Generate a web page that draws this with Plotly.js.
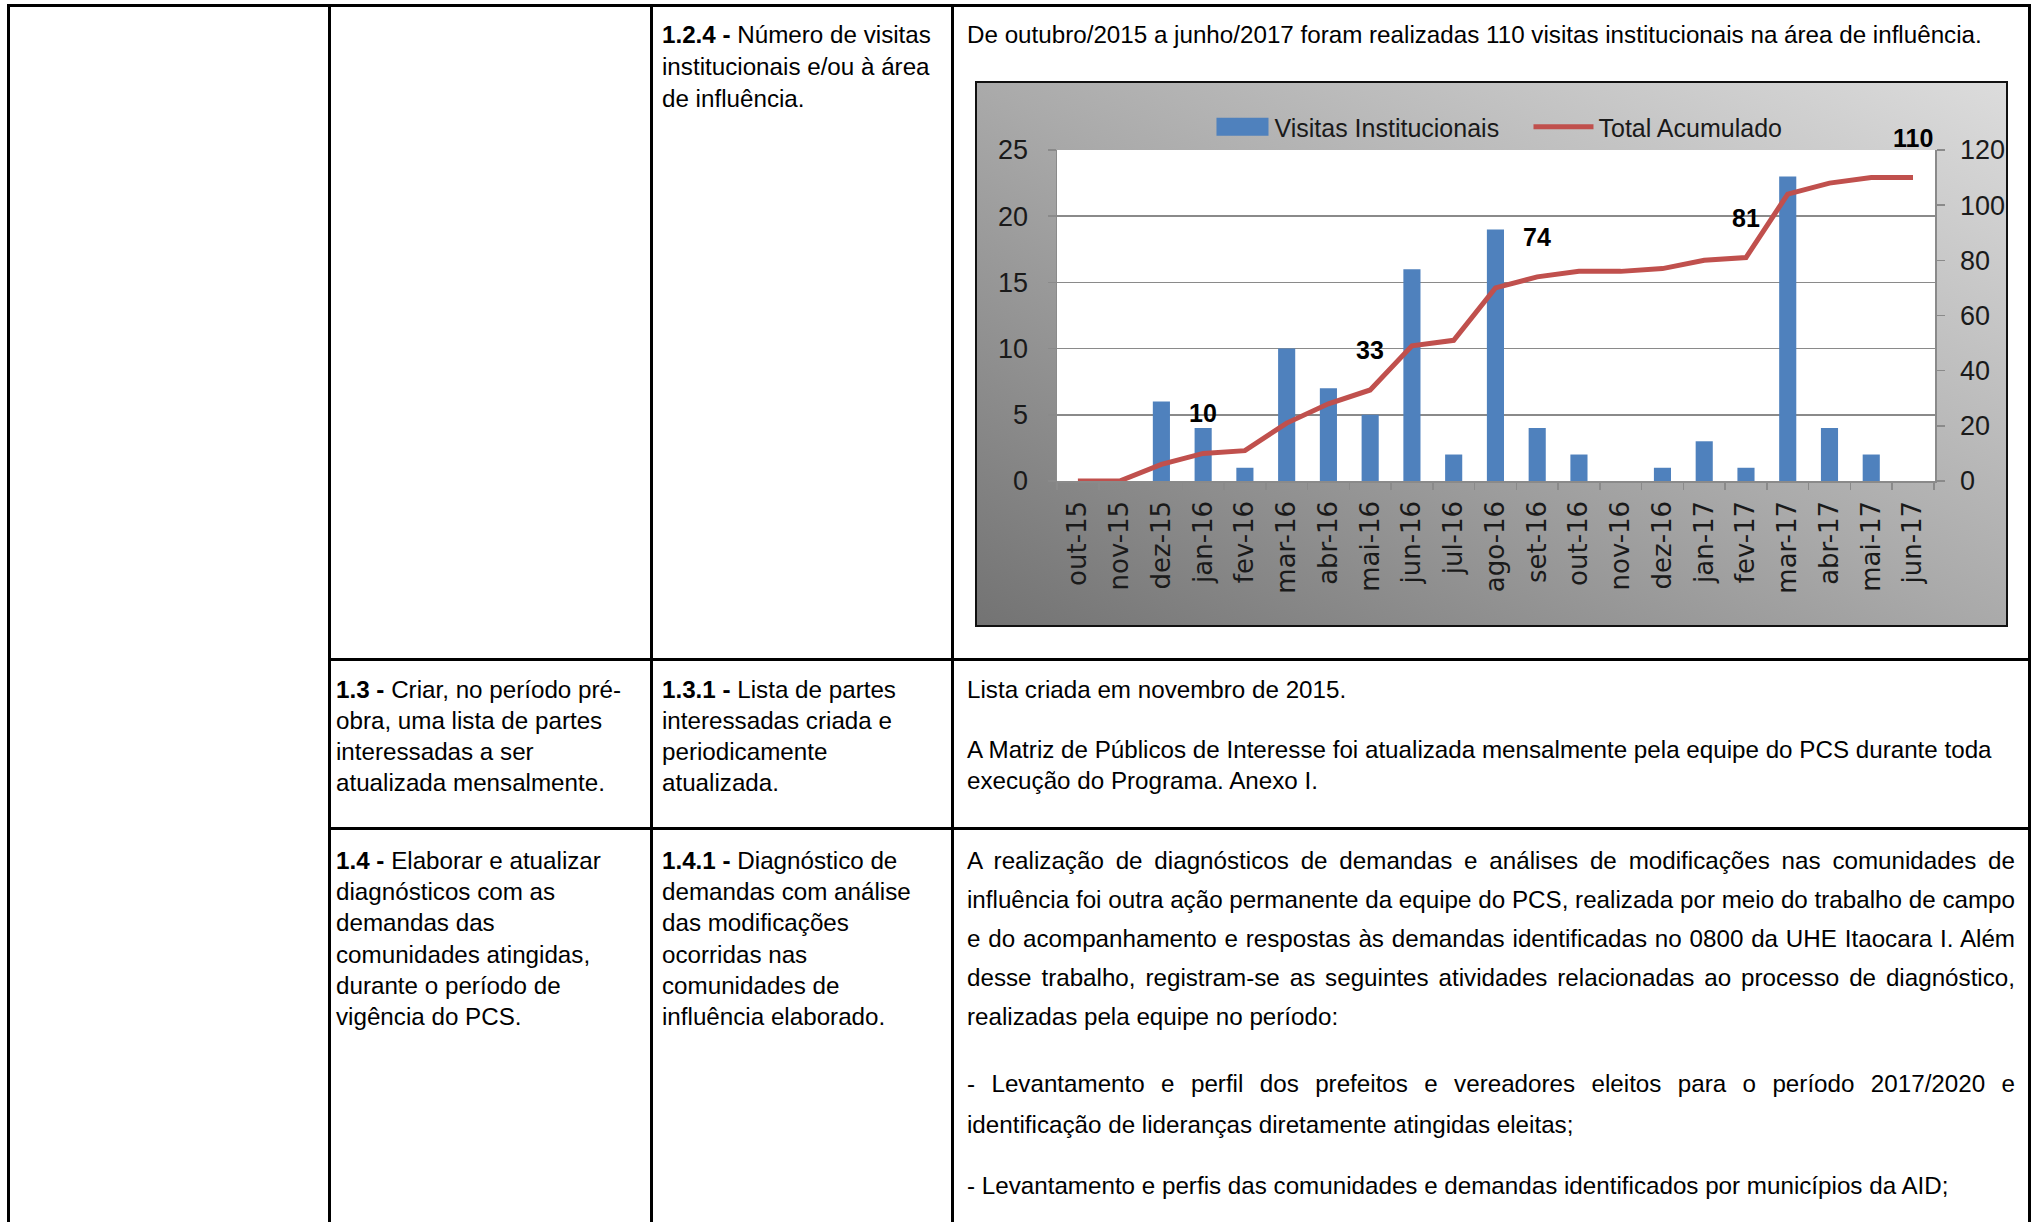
<!DOCTYPE html>
<html><head><meta charset="utf-8">
<script src="https://cdn.plot.ly/plotly-3.0.1.min.js"></script>
<style>
html,body{margin:0;padding:0;background:#fff;}
body{width:2034px;height:1222px;position:relative;overflow:hidden;font-family:"Liberation Sans",Arial,sans-serif;color:#000;}
.hl{position:absolute;background:#000;height:3px;}
.vl{position:absolute;background:#000;width:3px;}
.t{position:absolute;white-space:nowrap;font-size:24.2px;line-height:30px;height:30px;}
.c1{left:336px;}
.c2{left:662px;}
.c3{left:967px;}
.j{width:1048px;text-align:justify;text-align-last:justify;}
#frame{position:absolute;left:975px;top:81px;width:1033px;height:546px;box-sizing:border-box;border:2px solid #111;
  background:linear-gradient(to bottom left,#dcdcdc 0%,#aaaaaa 50%,#737373 100%);}
#chart{position:absolute;left:-2px;top:-2px;width:1033px;height:546px;}
</style></head>
<body>
<!-- table rules -->
<div class="hl" style="left:7px;top:4px;width:2024px;"></div>
<div class="vl" style="left:7px;top:4px;height:1218px;"></div>
<div class="vl" style="left:328px;top:4px;height:1218px;"></div>
<div class="vl" style="left:650px;top:4px;height:1218px;"></div>
<div class="vl" style="left:951px;top:4px;height:1218px;"></div>
<div class="vl" style="left:2028px;top:4px;height:1218px;"></div>
<div class="hl" style="left:328px;top:658px;width:1703px;"></div>
<div class="hl" style="left:328px;top:827px;width:1703px;"></div>

<!-- row 1 -->
<div class="t c2" style="top:20px;"><b>1.2.4 -</b> Número de visitas</div>
<div class="t c2" style="top:52px;">institucionais e/ou à área</div>
<div class="t c2" style="top:84px;">de influência.</div>
<div class="t c3" style="top:20px;">De outubro/2015 a junho/2017 foram realizadas 110 visitas institucionais na área de influência.</div>

<!-- row 2 -->
<div class="t c1" style="top:675px;"><b>1.3 -</b> Criar, no período pré-</div>
<div class="t c1" style="top:706px;">obra, uma lista de partes</div>
<div class="t c1" style="top:737px;">interessadas a ser</div>
<div class="t c1" style="top:768px;">atualizada mensalmente.</div>
<div class="t c2" style="top:675px;"><b>1.3.1 -</b> Lista de partes</div>
<div class="t c2" style="top:706px;">interessadas criada e</div>
<div class="t c2" style="top:737px;">periodicamente</div>
<div class="t c2" style="top:768px;">atualizada.</div>
<div class="t c3" style="top:675px;">Lista criada em novembro de 2015.</div>
<div class="t c3" style="top:735px;">A Matriz de Públicos de Interesse foi atualizada mensalmente pela equipe do PCS durante toda</div>
<div class="t c3" style="top:766px;">execução do Programa. Anexo I.</div>

<!-- row 3 -->
<div class="t c1" style="top:846px;"><b>1.4 -</b> Elaborar e atualizar</div>
<div class="t c1" style="top:877px;">diagnósticos com as</div>
<div class="t c1" style="top:908px;">demandas das</div>
<div class="t c1" style="top:940px;">comunidades atingidas,</div>
<div class="t c1" style="top:971px;">durante o período de</div>
<div class="t c1" style="top:1002px;">vigência do PCS.</div>
<div class="t c2" style="top:846px;"><b>1.4.1 -</b> Diagnóstico de</div>
<div class="t c2" style="top:877px;">demandas com análise</div>
<div class="t c2" style="top:908px;">das modificações</div>
<div class="t c2" style="top:940px;">ocorridas nas</div>
<div class="t c2" style="top:971px;">comunidades de</div>
<div class="t c2" style="top:1002px;">influência elaborado.</div>
<div class="t c3 j" style="top:846px;">A realização de diagnósticos de demandas e análises de modificações nas comunidades de</div>
<div class="t c3 j" style="top:885px;">influência foi outra ação permanente da equipe do PCS, realizada por meio do trabalho de campo</div>
<div class="t c3 j" style="top:924px;">e do acompanhamento e respostas às demandas identificadas no 0800 da UHE Itaocara I. Além</div>
<div class="t c3 j" style="top:963px;">desse trabalho, registram-se as seguintes atividades relacionadas ao processo de diagnóstico,</div>
<div class="t c3" style="top:1002px;">realizadas pela equipe no período:</div>
<div class="t c3 j" style="top:1069px;">- Levantamento e perfil dos prefeitos e vereadores eleitos para o período 2017/2020 e</div>
<div class="t c3" style="top:1110px;">identificação de lideranças diretamente atingidas eleitas;</div>
<div class="t c3" style="top:1171px;">- Levantamento e perfis das comunidades e demandas identificados por municípios da AID;</div>

<div id="frame"><div id="chart"></div></div>

<script>
const months = ['out-15','nov-15','dez-15','jan-16','fev-16','mar-16','abr-16','mai-16','jun-16','jul-16','ago-16','set-16','out-16','nov-16','dez-16','jan-17','fev-17','mar-17','abr-17','mai-17','jun-17'];
const visitas = [0,0,6,4,1,10,7,5,16,2,19,4,2,0,1,3,1,23,4,2,0];
const acumulado = [0,0,6,10,11,21,28,33,49,51,70,74,76,76,77,80,81,104,108,110,110];
const labeledMonths = ['jan-16','mai-16','set-16','fev-17','jun-17'];
const leftTicks = [0,5,10,15,20,25];
const rightTicks = [0,20,40,60,80,100,120];
const seriesNames = ['Visitas Institucionais','Total Acumulado'];

const numFont = '"Liberation Sans",Arial,sans-serif';
const axisGray = '#8a8a8a';

const traces = [
  {type:'bar', x:months, y:visitas, name:seriesNames[0], yaxis:'y',
   marker:{color:'#4f81bd'}, hoverinfo:'skip'},
  {type:'scatter', mode:'lines', x:months, y:acumulado, name:seriesNames[1], yaxis:'y2',
   line:{color:'#c0504d', width:5}, hoverinfo:'skip'}
];

const annotations = labeledMonths.map(m => {
  const v = acumulado[months.indexOf(m)];
  return {x:m, y:v, xref:'x', yref:'y2', text:'<b>'+v+'</b>', showarrow:false, yshift:40,
          font:{family:numFont, size:25, color:'#000'}};
});

const layout = {
  width:1033, height:546,
  margin:{l:82, r:73, t:69, b:146},
  paper_bgcolor:'rgba(0,0,0,0)', plot_bgcolor:'#ffffff',
  bargap:0.59,
  showlegend:true,
  legend:{orientation:'h', x:0.537, xanchor:'center', y:1.0, yanchor:'bottom',
          font:{family:numFont, size:25, color:'#1a1a1a'}, bgcolor:'rgba(0,0,0,0)',
          itemwidth:60, entrywidth:249, entrywidthmode:'pixels', traceorder:'normal'},
  xaxis:{type:'category', categoryorder:'array', categoryarray:months, tickangle:-90,
         tickfont:{family:'"DejaVu Sans",Verdana,sans-serif', size:26, color:'#1a1a1a'},
         ticks:'outside', ticklen:7, tickcolor:axisGray, tickwidth:1.5, tickson:'boundaries',
         showline:true, linecolor:axisGray, linewidth:1.5, showgrid:false, ticklabelstandoff:8},
  yaxis:{range:[0,25], tickvals:leftTicks, showgrid:true, gridcolor:axisGray, gridwidth:1.5,
         showline:true, linecolor:axisGray, linewidth:1.5, ticks:'outside', ticklen:8, tickcolor:axisGray, tickwidth:1.5,
         tickfont:{family:numFont, size:27, color:'#1a1a1a'}, zeroline:false, ticklabelstandoff:14},
  yaxis2:{range:[0,120], tickvals:rightTicks, overlaying:'y', side:'right', showgrid:false,
          showline:true, linecolor:axisGray, linewidth:1.5, ticks:'outside', ticklen:8, tickcolor:axisGray, tickwidth:1.5,
          tickfont:{family:numFont, size:27, color:'#1a1a1a'}, zeroline:false, ticklabelstandoff:10},
  annotations:annotations
};

// Style only: make the bar legend swatch the wide rectangle seen in the reference.
function widenBarSwatch() {
  const gd = document.getElementById('chart');
  const groups = gd.querySelectorAll('g.legend g.traces');
  groups.forEach(tr => {
    const txt = tr.querySelector('text.legendtext');
    const tx = txt && txt.getAttribute('x') ? parseFloat(txt.getAttribute('x')) : 70;
    tr.querySelectorAll('g.legendpoints path').forEach(p => {
      const fill = (p.style.fill || p.getAttribute('fill') || '').replace(/\s/g,'').toLowerCase();
      if (fill === 'rgb(79,129,189)' || fill === '#4f81bd') {
        p.setAttribute('d', 'M' + (tx - 58) + ',-9H' + (tx - 6) + 'V9H' + (tx - 58) + 'Z');
        p.setAttribute('transform', 'translate(0,0)');
        p.removeAttribute('transform');
      }
    });
  });
}

Plotly.newPlot('chart', traces, layout, {staticPlot:true, displayModeBar:false}).then(() => {
  widenBarSwatch();
  setTimeout(widenBarSwatch, 100);
  setTimeout(widenBarSwatch, 500);
});
</script>
</body></html>
